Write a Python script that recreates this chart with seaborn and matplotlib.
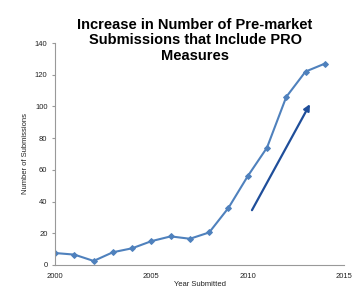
import numpy as np
import pandas as pd
import seaborn as sns
import matplotlib.pyplot as plt

sns.set_style('white')
plt.rcParams['font.family'] = ['Liberation Sans', 'DejaVu Sans']

years = [2000, 2001, 2002, 2003, 2004, 2005, 2006, 2007, 2008, 2009,
         2010, 2011, 2012, 2013, 2014]
submissions = [7.5, 6.5, 2.5, 8, 10.5, 15, 18, 16.5, 20.5, 36,
               56, 74, 106, 122, 127]
df = pd.DataFrame({'year': years, 'n': submissions})

fig = plt.figure(figsize=(3.58, 2.99), dpi=100)
ax = fig.add_axes([0.154, 0.114, 0.807, 0.742])

sns.lineplot(data=df, x='year', y='n', ax=ax, color='#4f81bd',
             marker='D', markersize=3, linewidth=1.5,
             markeredgecolor='#4f81bd')

# trend arrow
ax.annotate('', xy=(2013.3, 103), xytext=(2010.15, 33),
            arrowprops=dict(arrowstyle='-|>', color='#1f4e9a', lw=1.6,
                            mutation_scale=9))

ax.set_xlim(2000, 2015)
ax.set_ylim(0, 140)
ax.set_xticks([2000, 2005, 2010, 2015])
ax.set_yticks(range(0, 141, 20))
ax.tick_params(axis='both', labelsize=5.5, length=2, color='#999999',
               labelcolor='#222222', direction='out')
ax.tick_params(axis='y', left=True)
ax.tick_params(axis='x', bottom=False)
ax.set_xlabel('Year Submitted', fontsize=5.5, labelpad=1, color='#222222')
ax.set_ylabel('Number of Submissions', fontsize=5.5, labelpad=4, color='#222222')
for s in ['top', 'right']:
    ax.spines[s].set_visible(False)
for s in ['left', 'bottom']:
    ax.spines[s].set_color('#999999')
    ax.spines[s].set_linewidth(0.8)

fig.text(0.545, 0.94, 'Increase in Number of Pre-market\nSubmissions that Include PRO\nMeasures',
         ha='center', va='top', fontsize=10.5, fontweight='bold',
         linespacing=1.12, color='black')

fig.savefig('out.png', dpi=100)
